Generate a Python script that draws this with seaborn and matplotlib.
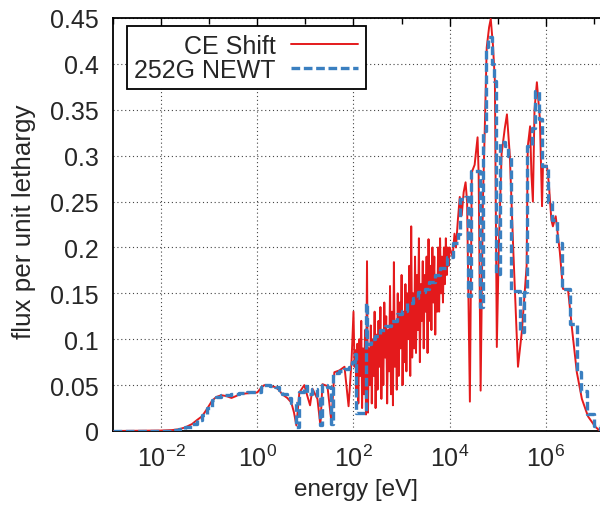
import matplotlib
matplotlib.use("Agg")
import matplotlib.pyplot as plt
import seaborn as sns

# ---------------- data ----------------
ce_energy = [1e-3, 1e-2, 0.017, 0.024, 0.032, 0.044, 0.056, 0.071, 0.09, 0.115, 0.14, 0.178,
             0.23, 0.29, 0.36, 0.42, 0.6, 1.0, 1.2, 1.4, 1.8, 2.3, 2.8, 3.3, 4.2, 5.1, 5.8, 6.5,
             7.5, 9.5, 11, 12.5, 14, 17.8, 20.5, 22.6, 28.7, 34.7, 40, 51, 65, 73, 79, 91,
             100, 105, 110, 115, 120, 126, 132, 138, 145, 151,
             158, 166, 174, 182, 191, 200, 209, 219, 229, 240,
             251, 263, 275, 288, 302, 316, 331, 347, 363, 380,
             398, 417, 437, 457, 479, 501, 525, 550, 575, 603,
             631, 661, 692, 724, 759, 794, 832, 871, 912, 955,
             1000, 1047, 1096, 1148, 1202, 1259, 1318, 1380, 1445, 1514,
             1585, 1660, 1738, 1820, 1905, 1995, 2089, 2188, 2291, 2399,
             2512, 2630, 2754, 2884, 3020, 3162, 3311, 3467, 3631, 3802,
             3981, 4169, 4365, 4571, 4786, 5012, 5248, 5495, 5754, 6026,
             6310, 6607, 6918, 7244, 7586, 7943, 8318, 8710, 9120, 9550,
             10000,
             11500, 12600, 13500, 14800, 16200, 17800, 19500, 21400, 23000, 26300,
             28800, 33000, 38000, 40000, 44000, 49000, 53700, 58900, 66000, 71400,
             79400, 87100, 95500, 105000, 120000, 140000, 155000, 178000, 209000, 263000,
             316000, 363000, 398000, 420000, 470000, 500000, 537000, 580000, 650000, 700000,
             750000, 800000, 832000, 870000, 1.05e6, 1.15e6, 1.21e6, 1.3e6, 1.4e6, 1.6e6,
             1.95e6, 2.26e6, 2.9e6, 3.5e6, 4.4e6, 5.6e6, 7.5e6, 1.05e7, 1.33e7]
ce_flux = [0.0, 0.0005, 0.001, 0.002, 0.004, 0.0076, 0.012, 0.016, 0.024, 0.033, 0.037, 0.039,
           0.038, 0.036, 0.038, 0.040, 0.041, 0.042, 0.047, 0.050, 0.049, 0.048, 0.045, 0.040, 0.036, 0.031, 0.02, 0.006,
           0.042, 0.050, 0.038, 0.028, 0.046, 0.035, 0.006, 0.051, 0.049, 0.010, 0.064, 0.066, 0.070, 0.045, 0.027, 0.076,
           0.13, 0.07, 0.088, 0.045, 0.095, 0.03, 0.10, 0.06, 0.12, 0.025,
           0.09, 0.04, 0.11, 0.018, 0.185, 0.02, 0.09, 0.05, 0.115, 0.03,
           0.10, 0.06, 0.13, 0.025, 0.105, 0.045, 0.12, 0.07, 0.135, 0.035,
           0.11, 0.05, 0.14, 0.08, 0.125, 0.03, 0.11, 0.065, 0.158, 0.04,
           0.13, 0.028, 0.184, 0.07, 0.12, 0.045, 0.15, 0.06, 0.14, 0.09,
           0.17, 0.05, 0.13, 0.075, 0.16, 0.065, 0.15, 0.10, 0.18, 0.06,
           0.223, 0.08, 0.15, 0.09, 0.19, 0.085, 0.17, 0.11, 0.21, 0.075,
           0.16, 0.12, 0.185, 0.09, 0.17, 0.13, 0.19, 0.085, 0.209, 0.12,
           0.18, 0.11, 0.2, 0.14, 0.19, 0.105, 0.17, 0.13, 0.2, 0.13,
           0.21, 0.15, 0.19, 0.14, 0.2, 0.16, 0.21, 0.17, 0.2, 0.18,
           0.2,
           0.19, 0.215, 0.20, 0.23, 0.255, 0.235, 0.26, 0.271, 0.25, 0.032,
           0.282, 0.29, 0.32, 0.28, 0.044, 0.25, 0.33, 0.418, 0.44, 0.449,
           0.42, 0.381, 0.0915, 0.2, 0.302, 0.33, 0.345, 0.30, 0.2, 0.07,
           0.108, 0.151, 0.18, 0.31, 0.332, 0.28, 0.25, 0.35, 0.38, 0.36,
           0.34, 0.28, 0.245, 0.289, 0.289, 0.27, 0.253, 0.23, 0.223, 0.234,
           0.195, 0.155, 0.153, 0.111, 0.064, 0.035, 0.016, 0.005, 0.0]

newt_energy = [1e-3, 1e-2, 0.017, 0.024, 0.032, 0.044, 0.056, 0.071, 0.09, 0.115,
               0.14, 0.178, 0.23, 0.29, 0.42, 0.6, 1.0, 1.2, 1.4, 1.8,
               2.3, 2.8, 3.3, 4.2, 5.1, 6.3, 7.2, 9.5, 11, 14,
               17.8, 20.0, 22.6, 28.7, 34.0, 38.0, 51, 65, 80, 91,
               105, 115, 180, 190, 230, 280, 350, 450, 600, 800,
               1000, 1300, 1700, 2200, 3000, 3800, 5000, 6200, 8700, 11500,
               14800, 16200, 21000, 23700, 28000, 42000, 49000, 56000, 63000, 76000,
               85000, 92000, 110000, 140000, 165000, 190000, 290000, 350000, 410000, 520000,
               600000, 720000, 820000, 1.1e6, 1.35e6, 1.7e6, 2.2e6, 3.2e6, 4.4e6, 5.3e6,
               7e6, 1e7, 1.33e7]
newt_flux = [0.0, 0.0005, 0.001, 0.002, 0.004, 0.008, 0.012, 0.017, 0.025, 0.034,
             0.037, 0.039, 0.039, 0.040, 0.041, 0.042, 0.043, 0.048, 0.050, 0.049,
             0.048, 0.045, 0.040, 0.036, 0.031, 0.004, 0.042, 0.049, 0.040, 0.046,
             0.035, 0.007, 0.050, 0.048, 0.008, 0.063, 0.065, 0.068, 0.070, 0.075,
             0.084, 0.020, 0.14, 0.095, 0.10, 0.104, 0.11, 0.114, 0.12, 0.127,
             0.131, 0.14, 0.145, 0.151, 0.155, 0.162, 0.17, 0.178, 0.19, 0.205,
             0.215, 0.253, 0.255, 0.147, 0.283, 0.135, 0.327, 0.418, 0.429, 0.40,
             0.381, 0.171, 0.315, 0.31, 0.30, 0.152, 0.108, 0.151, 0.31, 0.33,
             0.37, 0.34, 0.289, 0.25, 0.23, 0.205, 0.155, 0.117, 0.064, 0.044,
             0.018, 0.005, 0.0]

x_major = [1e-2, 1e0, 1e2, 1e4, 1e6]
x_major_labels = ["$10^{-2}$", "$10^{0}$", "$10^{2}$", "$10^{4}$", "$10^{6}$"]
x_minor = [1e-3, 1e-1, 1e1, 1e3, 1e5, 1e7]
y_ticks = [0, 0.05, 0.1, 0.15, 0.2, 0.25, 0.3, 0.35, 0.4, 0.45]
y_tick_labels = ["0", "0.05", "0.1", "0.15", "0.2", "0.25", "0.3", "0.35", "0.4", "0.45"]

# ---------------- style ----------------
sns.set_style("white")
plt.rcParams["font.family"] = ["Liberation Sans", "DejaVu Sans"]
plt.rcParams["mathtext.default"] = "regular"
plt.rcParams["axes.unicode_minus"] = False
FS = 18

fig = plt.figure(figsize=(6.0, 5.06), dpi=100)
ax = fig.add_axes([113 / 600, 74 / 506, 487 / 600, 413 / 506])

red = "#e41a1c"
blue = "#3a7fc0"

sns.lineplot(x=ce_energy, y=ce_flux, ax=ax, color=red, lw=1.4,
             estimator=None, sort=False, label="CE Shift", zorder=3)
sns.lineplot(x=newt_energy, y=newt_flux, ax=ax, color=blue, lw=2.4,
             estimator=None, sort=False, label="252G NEWT",
             drawstyle="steps-post", zorder=4)
for ln in ax.get_lines()[1:2]:
    ln.set_dashes((2.6, 1.1))

ax.set_xscale("log")
ax.set_xlim(1e-3, 1.334e7)
ax.set_ylim(0, 0.45)
ax.set_xticks(x_major)
ax.set_xticklabels(x_major_labels)
ax.set_xticks(x_minor, minor=True)
ax.set_xticklabels([], minor=True)
ax.set_yticks(y_ticks)
ax.set_yticklabels(y_tick_labels)

ax.tick_params(axis="both", which="major", direction="in", length=6, width=1.0,
               labelsize=FS, pad=10, top=True, right=False, color="black")
ax.tick_params(axis="x", which="minor", direction="in", length=4, width=1.0,
               top=True, color="black")
ax.grid(True, which="major", color="#444444", linestyle=(0, (1, 2.5)), lw=0.8)
ax.set_axisbelow(True)

for s in ["left", "bottom", "top"]:
    ax.spines[s].set_color("black")
    ax.spines[s].set_linewidth(1.3)
ax.spines["right"].set_visible(False)

ax.set_xlabel("energy [eV]", fontsize=17.5, labelpad=5)
ax.set_ylabel("flux per unit lethargy", fontsize=18.7, labelpad=8)
ax.yaxis.set_label_coords(-0.158, 0.51)

leg = ax.legend(loc="upper left", bbox_to_anchor=(0.0287, 0.9806), borderaxespad=0,
                markerfirst=False, frameon=True, fancybox=False, framealpha=1,
                edgecolor="black", fontsize=FS, handlelength=2.7, handletextpad=0.6,
                labelspacing=0.0, borderpad=0.3)
leg.get_frame().set_linewidth(1.3)

fig.savefig("out.png", dpi=100)
